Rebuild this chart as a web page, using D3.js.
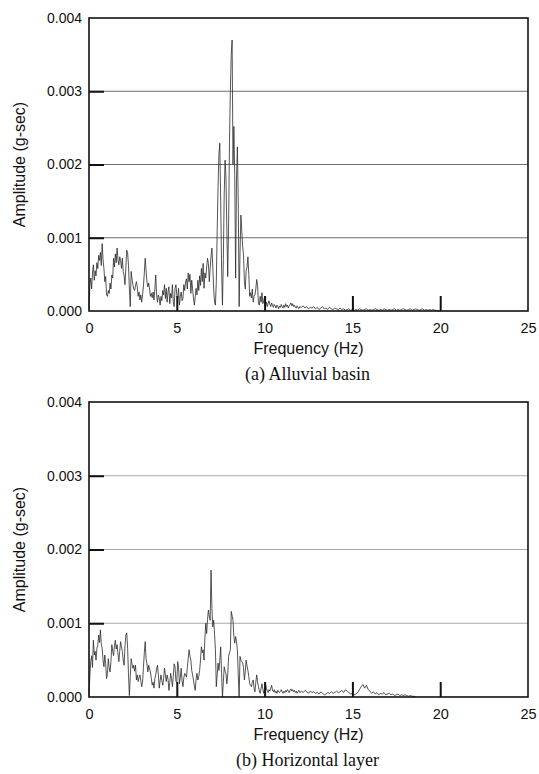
<!DOCTYPE html>
<html>
<head>
<meta charset="utf-8">
<script src="https://cdn.jsdelivr.net/npm/d3@7"></script>
<style>
  html, body { margin: 0; padding: 0; background: #fff; }
  svg { display: block; }
</style>
</head>
<body>
<svg id="chart" width="539" height="774"></svg>
<script>
// Fourier amplitude spectra, amplitudes in units of 1e-5 g-sec.
// Fine part: 0–12 Hz every 0.05 Hz (one row per Hz), tail: every 0.1 Hz after 12 Hz.
const STEP_FINE = 0.05;
const FINE_END = 12;
const STEP_TAIL = 0.1;
const UNIT = 1e-5;

const basinFine = [
  2,35,45,30,52,63,42,55,48,66,58,76,69,80,62,92,70,58,40,47,
  22,20,28,24,38,30,49,45,72,60,78,66,86,70,63,74,69,58,72,54,
  48,36,60,83,79,62,30,6,54,44,36,30,28,35,40,33,20,26,15,22,
  12,22,34,52,72,55,40,33,38,30,20,24,18,26,15,30,49,22,12,22,
  18,8,20,14,28,22,36,17,31,12,26,33,10,24,18,36,12,6,31,36,
  22,17,31,8,20,26,14,17,36,28,40,44,30,52,40,50,24,42,30,18,
  8,20,31,22,42,28,48,35,58,40,65,31,52,45,60,72,65,40,58,75,
  86,60,30,12,8,40,110,170,215,229,150,60,8,70,160,206,183,110,47,120,
  230,300,350,370,200,252,185,45,180,224,150,6,80,131,110,88,77,40,30,55,
  60,74,50,20,25,18,30,12,20,22,30,43,35,10,8,20,12,25,10,14,
  20,8,12,6,10,14,9,6,11,8,5,9,7,4,8,6,3,7,5,9,
  6,4,8,5,10,6,8,4,7,9,11,7,10,6,8,5,4,7,5,3,
  6
];
const basinTail = [
  5,7,4,6,3,5,4,6,3,5,
  2,4,6,3,4,2,5,3,2,4,
  3,2,4,2,3,1,2,3,1,2,
  1,2,1,3,2,1,2,3,1,2,
  1,2,3,2,1,2,1,3,2,1,
  2,1,2,3,1,2,1,2,3,2,
  1,2,3,1,2,3,2,1,2,3,
  1,2,1,2,1,2,1,1,0,0
];

const layerFine = [
  2,30,48,56,40,77,57,62,50,66,70,84,74,91,72,66,50,41,57,45,
  25,32,52,40,34,48,71,62,56,70,77,65,71,58,48,62,75,68,62,50,
  43,70,84,87,66,30,2,28,52,45,39,43,35,43,23,30,21,26,30,22,
  14,20,40,60,75,52,45,34,43,38,34,25,16,20,12,25,30,38,43,30,
  12,22,30,22,16,25,39,30,21,30,24,9,20,32,25,14,28,45,41,21,
  20,48,40,18,26,39,22,14,26,32,30,27,40,52,64,55,50,36,30,23,
  15,9,25,32,23,28,36,50,68,60,64,50,80,100,86,105,118,110,104,172,
  120,95,104,85,64,14,30,46,36,50,68,32,0,20,41,35,32,18,30,55,
  60,64,116,110,104,82,73,82,75,64,30,0,55,50,48,46,40,23,35,50,
  42,36,28,18,16,14,20,23,12,7,20,30,20,14,8,5,12,18,10,5,
  12,18,12,9,6,10,8,12,16,9,7,10,6,8,5,9,7,6,8,10,
  7,5,8,6,9,7,10,8,6,9,11,8,10,7,9,6,8,5,7,9,
  6
];
const layerTail = [
  8,6,9,7,5,8,6,7,5,6,
  4,7,5,3,4,6,5,7,5,6,
  8,6,7,9,6,10,8,6,4,5,
  3,4,6,10,14,17,12,16,10,8,
  5,7,4,6,3,5,4,6,3,4,
  5,3,4,2,3,4,2,3,2,3,
  2,1,2,1,1,0
];

const freqTicks = [0, 5, 10, 15, 20, 25];
const ampTicks = [0, 0.001, 0.002, 0.003, 0.004];
const gridTicks = [0.001, 0.002, 0.003];
const captions = ["(a) Alluvial basin", "(b) Horizontal layer"];
const xTitle = "Frequency (Hz)";
const yTitle = "Amplitude (g-sec)";

function toPoints(fine, tail) {
  const pts = fine.map((v, i) => [i * STEP_FINE, v * UNIT]);
  tail.forEach((v, i) => pts.push([FINE_END + (i + 1) * STEP_TAIL, v * UNIT]));
  return pts;
}

const panels = [
  { pts: toPoints(basinFine, basinTail), top: 18, bottom: 311, grid: "#6e6e6e", caption: captions[0] },
  { pts: toPoints(layerFine, layerTail), top: 402, bottom: 697, grid: "#a8a8a8", caption: captions[1] }
];

const left = 89, right = 528;
const svg = d3.select("#chart");
const sans = "'Liberation Sans', Arial, sans-serif";
const serif = "'Liberation Serif', 'Times New Roman', serif";

panels.forEach(p => {
  const x = d3.scaleLinear().domain([0, 25]).range([left, right]);
  const y = d3.scaleLinear().domain([0, 0.004]).range([p.bottom, p.top]);
  const g = svg.append("g");

  // horizontal grid lines
  g.selectAll("line.grid").data(gridTicks).join("line")
    .attr("class", "grid")
    .attr("x1", left).attr("x2", right)
    .attr("y1", d => y(d)).attr("y2", d => y(d))
    .attr("stroke", p.grid).attr("stroke-width", 1);

  // spectrum trace
  g.append("path")
    .datum(p.pts)
    .attr("fill", "none")
    .attr("stroke", "#2a2a2a")
    .attr("stroke-width", 0.8)
    .attr("stroke-linejoin", "round")
    .attr("d", d3.line().x(d => x(d[0])).y(d => y(d[1])));

  // frame
  g.append("rect")
    .attr("x", left).attr("y", p.top)
    .attr("width", right - left).attr("height", p.bottom - p.top)
    .attr("fill", "none").attr("stroke", "#111").attr("stroke-width", 1.6);

  // x axis: inward ticks, labels below
  const xa = g.append("g")
    .attr("transform", `translate(0,${p.bottom})`)
    .call(d3.axisBottom(x).tickValues(freqTicks).tickFormat(d3.format("d"))
      .tickSizeInner(-15).tickSizeOuter(0).tickPadding(12));
  xa.select(".domain").remove();
  xa.selectAll(".tick line").attr("stroke", "#111").attr("stroke-width", 2)
    .filter(d => d === 0 || d === 25).remove();
  xa.selectAll(".tick text").attr("font-family", sans).attr("font-size", 14.5).attr("fill", "#111");

  // y axis: inward ticks, labels left
  const ya = g.append("g")
    .attr("transform", `translate(${left},0)`)
    .call(d3.axisLeft(y).tickValues(ampTicks).tickFormat(d3.format(".3f"))
      .tickSizeInner(-15).tickSizeOuter(0).tickPadding(7));
  ya.select(".domain").remove();
  ya.selectAll(".tick line").attr("stroke", "#111").attr("stroke-width", 2)
    .filter(d => d === 0 || d === 0.004).remove();
  ya.selectAll(".tick text").attr("font-family", sans).attr("font-size", 14).attr("fill", "#111");

  // axis titles
  g.append("text")
    .attr("x", (left + right) / 2).attr("y", p.bottom + 43)
    .attr("text-anchor", "middle")
    .attr("font-family", sans).attr("font-size", 16).attr("fill", "#111")
    .text(xTitle);

  g.append("text")
    .attr("transform", `translate(25,${(p.top + p.bottom) / 2}) rotate(-90)`)
    .attr("text-anchor", "middle")
    .attr("font-family", sans).attr("font-size", 16).attr("fill", "#111")
    .text(yTitle);

  // panel caption
  g.append("text")
    .attr("x", (left + right) / 2 - 1).attr("y", p.bottom + 69)
    .attr("text-anchor", "middle")
    .attr("font-family", serif).attr("font-size", 18).attr("fill", "#111")
    .text(p.caption);
});
</script>
</body>
</html>
